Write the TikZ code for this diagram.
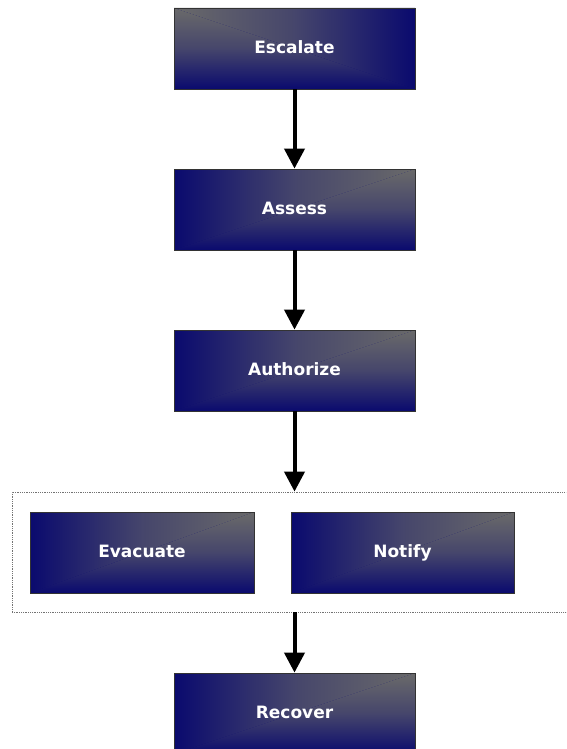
\documentclass[tikz,border=0pt]{standalone}
\usepackage{fontspec}
\newfontfamily\stepfont{DejaVu Sans}
\usetikzlibrary{arrows.meta}
\definecolor{boxnavy}{RGB}{10,10,110}
\definecolor{boxgray}{RGB}{106,106,106}
\colorlet{boxmid}{boxgray!62!boxnavy}
\begin{document}
\begin{tikzpicture}[x=1pt, y=-1pt]
		% Define the styles for the boxes and arrows
		\tikzstyle{stepbox}
		=[rectangle, draw=black!80, line width=0.8pt, inner sep=0pt, minimum width=241pt,
		minimum height=81pt, text height=13pt, text depth=3pt, fill=boxnavy,
		text=white, font=\stepfont\bfseries\fontsize{17}{20}\selectfont, glow right]
		% Gray corner at the top right, split along the diagonal
		\tikzstyle{glow right}
		=[path picture={
			\shade[left color=boxnavy, right color=boxgray, middle color=boxmid]
			(path picture bounding box.south west) -- (path picture bounding box.north west)
			-- (path picture bounding box.north east) -- cycle;
			\shade[bottom color=boxnavy, top color=boxgray, middle color=boxmid]
			(path picture bounding box.south west) -- (path picture bounding box.south east)
			-- (path picture bounding box.north east) -- cycle;}]
		% Gray corner at the top left
		\tikzstyle{glow left}
		=[path picture={
			\shade[left color=boxgray, right color=boxnavy, middle color=boxmid]
			(path picture bounding box.north west) -- (path picture bounding box.north east)
			-- (path picture bounding box.south east) -- cycle;
			\shade[bottom color=boxnavy, top color=boxgray, middle color=boxmid]
			(path picture bounding box.north west) -- (path picture bounding box.south west)
			-- (path picture bounding box.south east) -- cycle;}]
		\tikzstyle{flow}
		=[line width=4pt, -{Triangle[width=20pt, length=20pt]}]
		
		\clip (0, 0) rectangle (566, 749);
		
		% Boxes of the chain
		\node[stepbox, glow left] (escalate) at (294.5, 48.5) {Escalate};
		\node[stepbox] (assess) at (294.5, 209.5) {Assess};
		\node[stepbox] (authorize) at (294.5, 370.5) {Authorize};
		\node[stepbox] (recover) at (294.5, 713.5) {Recover};
		
		% Dotted frame with the two parallel boxes
		\node[draw=black!55, densely dotted, line width=0.8pt, inner sep=0pt,
		minimum width=570pt, minimum height=120pt] (group) at (297, 552) {};
		\node[stepbox, minimum width=224pt] (evacuate) at (142, 552.5) {Evacuate};
		\node[stepbox, minimum width=223pt] (notify) at (402.5, 552.5) {Notify};
		
		% Draw the arrows
		\draw[flow] (escalate) -- (assess); \draw[flow] (assess) -- (authorize);
		\draw[flow] (authorize.south) -- (authorize.south |- group.north);
		\draw[flow] (recover.north |- group.south) -- (recover.north);
	\end{tikzpicture}
\end{document}
